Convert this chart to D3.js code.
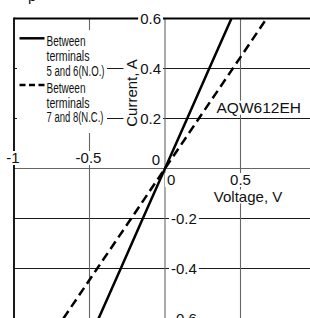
<!DOCTYPE html>
<html>
<head>
<meta charset="utf-8">
<script src="https://d3js.org/d3.v7.min.js"></script>
<style>
  body { margin: 0; background: #fff; }
  svg { display: block; font-family: "Liberation Sans", Arial, sans-serif; }
  .lab { font-size: 15px; fill: #111; }
  .leg { font-family: "Liberation Sans Narrow", "Liberation Sans", sans-serif; font-size: 14px; fill: #111; }
</style>
</head>
<body>
<svg width="310" height="318"></svg>
<script>
// values (voltage in V, current in A)
var current   = [-0.6, -0.4, -0.2, 0, 0.2, 0.4, 0.6];
var voltNO    = [-0.44, -0.293, -0.147, 0, 0.147, 0.293, 0.44];   // terminals 5 and 6
var voltNC    = [-0.673, -0.449, -0.224, 0, 0.224, 0.449, 0.673]; // terminals 7 and 8
var gridY     = [0.4, 0.2, 0, -0.2, -0.4];
var gridX     = [-0.5, 0, 0.5];
var xTopTicks = [-1, -0.5, 0];
var xBotTicks = [0, 0.5];
var yTopTicks = [0.6, 0.4, 0.2];
var yBotTicks = [-0.2, -0.4, -0.6];
var legendLines = [
  ["Between", "terminals", "5 and 6(N.O.)"],
  ["Between", "terminals", "7 and 8(N.C.)"]
];

var svg = d3.select("svg"),
    width = +svg.attr("width"),
    height = +svg.attr("height");

var x = d3.scaleLinear().domain([-1, 1]).range([14, 316]);
var y = d3.scaleLinear().domain([-0.6, 0.6]).range([318.5, 18.5]);

// grid
svg.append("g").selectAll("line").data(gridY).enter().append("line")
    .attr("x1", x(-1)).attr("x2", width)
    .attr("y1", function(d) { return y(d); }).attr("y2", function(d) { return y(d); })
    .attr("stroke", function(d) { return d === 0 ? "#666" : "#1a1a1a"; })
    .attr("stroke-width", 1);
svg.append("g").selectAll("line").data(gridX).enter().append("line")
    .attr("x1", function(d) { return x(d); }).attr("x2", function(d) { return x(d); })
    .attr("y1", y(0.6)).attr("y2", height)
    .attr("stroke", "#666").attr("stroke-width", 1.1);

// frame (top and left)
svg.append("line").attr("x1", x(-1)).attr("x2", width)
    .attr("y1", y(0.6)).attr("y2", y(0.6))
    .attr("stroke", "#000").attr("stroke-width", 1.8);
svg.append("line").attr("x1", x(-1)).attr("x2", x(-1))
    .attr("y1", y(0.6) - 0.9).attr("y2", height)
    .attr("stroke", "#000").attr("stroke-width", 1.8);

// labels with white background
var labels = svg.append("g");
function label(txt, px, py, anchor, cls, rotate) {
  var g = labels.append("g");
  var t = g.append("text").attr("class", cls || "lab")
      .attr("x", px).attr("y", py)
      .attr("text-anchor", anchor)
      .text(txt);
  if (rotate) t.attr("transform", "rotate(-90," + px + "," + py + ")");
  var b = t.node().getBBox();
  var r = g.insert("rect", "text").attr("fill", "#fff");
  if (rotate) {
    r.attr("x", px - b.height + 4).attr("y", py - b.width / 2 - 3)
     .attr("width", b.height - 2).attr("height", b.width + 6);
  } else {
    r.attr("x", b.x - 2).attr("y", b.y + 2)
     .attr("width", b.width + 4).attr("height", b.height - 3);
  }
  return t;
}

xTopTicks.forEach(function(d) {
  if (d === 0) label("0", x(0) - 5, y(0) - 4, "end");
  else label(String(d), x(d) - 1, y(0) - 5.5, "middle");
});
xBotTicks.forEach(function(d) {
  if (d === 0) label("0", x(0) + 2, y(0) + 16.5, "start");
  else label(String(d), x(d), y(0) + 16.5, "middle");
});
yTopTicks.forEach(function(d) {
  label(String(d), x(0) - 4, y(d) + 5.3, "end");
});
yBotTicks.forEach(function(d) {
  label(String(d), x(0) + 6, y(d) + 5.3, "start");
});
label("Voltage, V", x(0.55), y(0) + 33, "middle");
label("Current, A", x(0) - 28.5, y(0.3) - 0.5, "middle", "lab", true);
label("AQW612EH", 216.5, 112.7, "start").style("font-size", "15.5px");

// cut-off title letter at the very top
svg.append("text").attr("class", "lab").attr("x", 28).attr("y", 1).text("p");

// legend
var leg = svg.append("g");
leg.append("rect").attr("x", 17).attr("y", 30).attr("width", 90).attr("height", 103)
    .attr("fill", "#fff");
var widths = { "Between": 39, "terminals": 43, "5 and 6(N.O.)": 58, "7 and 8(N.C.)": 57 };
legendLines.forEach(function(lines, i) {
  var top = 46.3 + i * 46.7;
  leg.append("line")
      .attr("x1", 19.5).attr("x2", 44.5)
      .attr("y1", top - 8).attr("y2", top - 8)
      .attr("stroke", "#000").attr("stroke-width", 2.5)
      .attr("stroke-dasharray", i === 0 ? null : "6,3.5");
  lines.forEach(function(s, j) {
    leg.append("text").attr("class", "leg")
        .attr("x", 46.5).attr("y", top + j * 14.7)
        .attr("textLength", widths[s]).attr("lengthAdjust", "spacingAndGlyphs")
        .text(s);
  });
});

// data lines
var line = d3.line()
    .x(function(d) { return x(d[0]); })
    .y(function(d) { return y(d[1]); });

svg.append("path")
    .datum(d3.zip(voltNO, current))
    .attr("fill", "none").attr("stroke", "#000").attr("stroke-width", 2.5)
    .attr("d", line);
svg.append("path")
    .datum(d3.zip(voltNC, current))
    .attr("fill", "none").attr("stroke", "#000").attr("stroke-width", 2.5)
    .attr("stroke-dasharray", "9,5")
    .attr("d", line);
</script>
</body>
</html>
